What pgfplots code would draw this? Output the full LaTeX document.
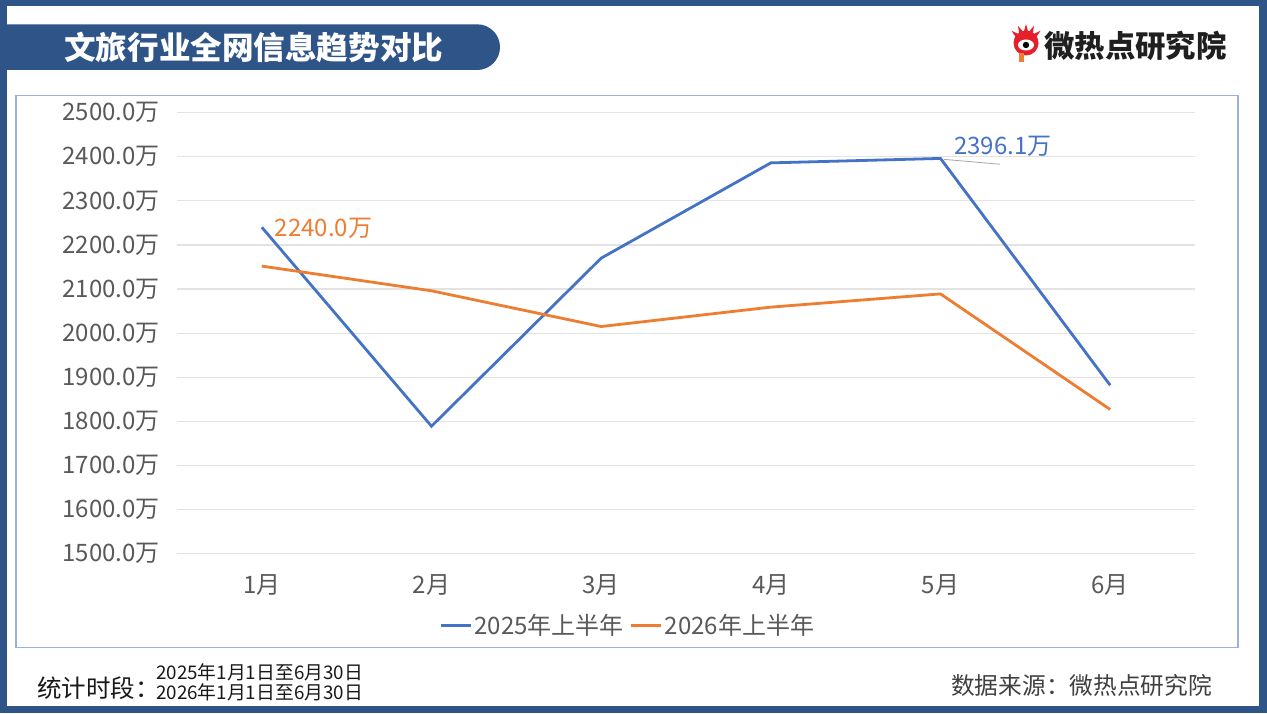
\documentclass[border=0pt]{standalone}
\usepackage{pgfplots}
\pgfplotsset{compat=1.18}
\usetikzlibrary{calc}
\usepackage{fontspec}
\setmainfont{Noto Sans CJK SC}
\definecolor{frameblue}{HTML}{2E5488}
\definecolor{boxblue}{HTML}{9AB0DE}
\definecolor{lblue}{HTML}{4472C4}
\definecolor{lorange}{HTML}{ED7D31}
\definecolor{gridgray}{HTML}{E3E3E3}
\definecolor{ticktext}{HTML}{595959}
\definecolor{logored}{HTML}{E5202A}
\begin{document}
\begin{tikzpicture}[x=1pt,y=1pt]
% frame
\fill[frameblue] (0,0) rectangle (1267,713);
\fill[white] (7,7) rectangle (1259,707);
% title banner
\fill[frameblue] (0,688.7) -- (477.15,688.7) arc[start angle=90,end angle=-90,radius=22.85] -- (0,643) -- cycle;
\node[anchor=west,text=white,inner sep=0pt,font=\fontsize{31.6}{35}\selectfont\bfseries] at (64,666) {文旅行业全网信息趋势对比};
% logo
\fill[logored] (1026,670) circle (12.5);
\foreach \a in {40,65,90,115,140}{
  \fill[logored] ($(1026,670)+(\a-12:11)$) -- ($(1026,670)+(\a:19)$) -- ($(1026,670)+(\a+12:11)$) -- cycle;
}
\fill[white] (1026,668) ellipse (8 and 5.5);
\fill[black] (1026,668) circle (3.2);
\fill[lorange] (1019,660) rectangle (1023.5,651);
\node[anchor=west,inner sep=0pt,font=\fontsize{30.4}{34}\selectfont\bfseries,text=black!88] at (1044,667) {微热点研究院};
% plot box
\draw[boxblue,line width=1.2pt] (16,65.3) rectangle (1238,617.3);
% footer
\node[anchor=west,inner sep=0pt,font=\fontsize{24.5}{28}\selectfont,text=black!90] at (37,25) {统计时段：};
\node[anchor=west,inner sep=0pt,font=\fontsize{18.8}{21}\selectfont,text=black!90] at (156,41) {2025年1月1日至6月30日};
\node[anchor=west,inner sep=0pt,font=\fontsize{18.8}{21}\selectfont,text=black!90] at (156,21) {2026年1月1日至6月30日};
\node[anchor=west,inner sep=0pt,font=\fontsize{23.7}{27}\selectfont,text=black!75] at (951,28) {数据来源：微热点研究院};
% chart
\begin{axis}[
  at={(177pt,159.3pt)}, anchor=south west,
  scale only axis, width=1018pt, height=441.1pt,
  xmin=-0.5, xmax=5.5, ymin=1500, ymax=2500,
  xtick={0,1,2,3,4,5}, xticklabels={1月,2月,3月,4月,5月,6月},
  ytick={1500,1600,1700,1800,1900,2000,2100,2200,2300,2400,2500},
  /pgf/number format/assume math mode=true,
  yticklabel={\pgfmathprintnumber[fixed,fixed zerofill,precision=1,1000 sep={}]{\tick}万},
  yticklabel style={font=\fontsize{24}{28}\selectfont,text=ticktext,inner sep=0pt,anchor=east,xshift=-17pt},
  xticklabel style={font=\fontsize{24}{28}\selectfont,text=ticktext,inner sep=0pt,anchor=center,yshift=-31pt},
  axis line style={draw=none},
  major tick length=0pt,
  ymajorgrids, grid style={gridgray,line width=1.2pt},
  clip=false,
  legend columns=2,
  legend style={at={(0.443,-0.162)},anchor=center,draw=none,fill=none,
    font=\fontsize{24}{28}\selectfont,text=ticktext,
    /tikz/every even column/.append style={column sep=4pt}},
  legend image code/.code={\draw[#1,line width=2.8pt] (0pt,0pt) -- (30pt,0pt);},
]
\addplot[lblue,line width=2.8pt] coordinates {(0,2240) (1,1789) (2,2170) (3,2386) (4,2396.1) (5,1882)};
\addlegendentry{2025年上半年}
\addplot[lorange,line width=2.8pt] coordinates {(0,2152) (1,2096) (2,2015) (3,2059) (4,2089) (5,1827)};
\addlegendentry{2026年上半年}
\draw[gray!70,line width=0.8pt] (axis cs:4.02,2394) -- (axis cs:4.35,2383);
\node[anchor=west,inner sep=0pt,text=lorange,font=\fontsize{24}{28}\selectfont] at (axis cs:0.075,2238) {2240.0万};
\node[anchor=west,inner sep=0pt,text=lblue,font=\fontsize{24}{28}\selectfont] at (axis cs:4.08,2424) {2396.1万};
\end{axis}
\end{tikzpicture}
\end{document}
